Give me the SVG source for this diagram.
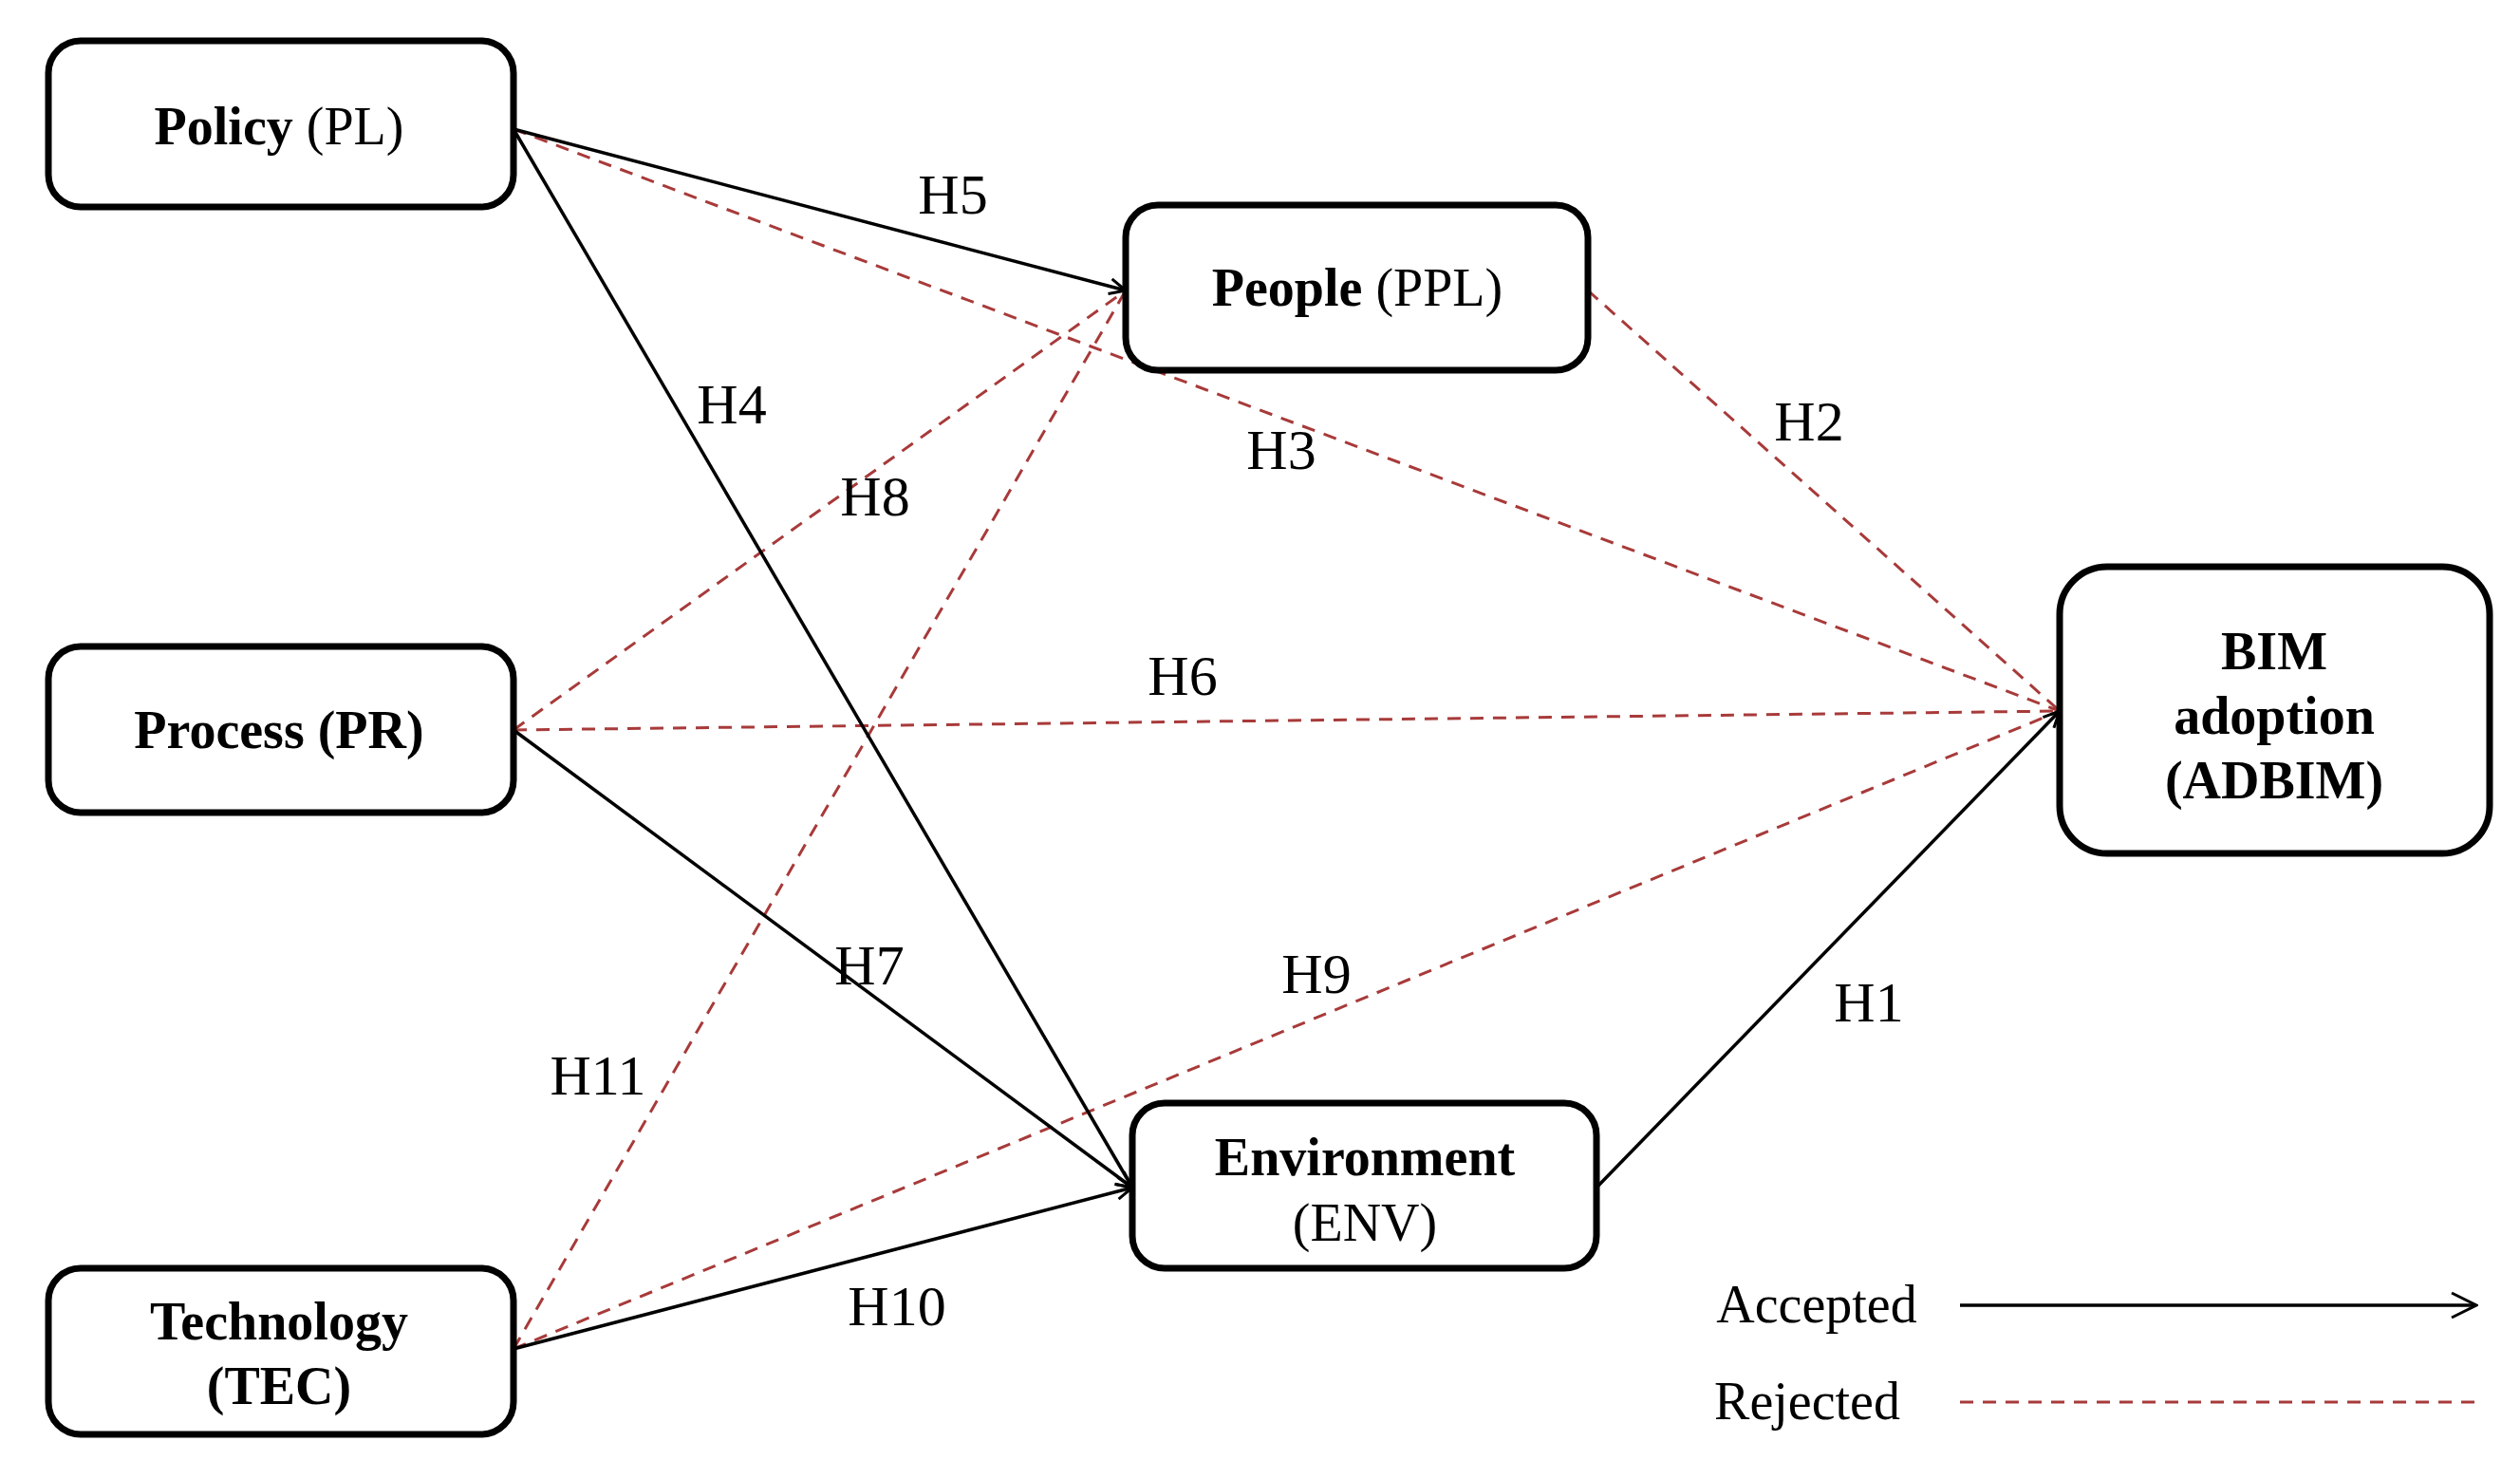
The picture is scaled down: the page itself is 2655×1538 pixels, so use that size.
<svg xmlns="http://www.w3.org/2000/svg" width="2655" height="1538" viewBox="0 0 2655 1538">
<defs>
<style>
.box{fill:#fff;stroke:#000;stroke-width:7}
.t{font-family:"Liberation Serif",serif;font-size:56px;text-anchor:middle;fill:#000}
.b{font-weight:bold}
.lab{font-family:"Liberation Serif",serif;font-size:60px;text-anchor:middle;fill:#000}
.acc{stroke:#000;stroke-width:3.5;fill:none}
.rej{stroke:#a83a3a;stroke-width:3;fill:none;stroke-dasharray:14 10}
</style>
<marker id="ar" viewBox="0 0 20 20" refX="19" refY="10" markerWidth="20" markerHeight="20" markerUnits="userSpaceOnUse" orient="auto"><path d="M2,2 L19,10 L2,18" fill="none" stroke="#000" stroke-width="3"/></marker>
<marker id="al" viewBox="0 0 30 30" refX="28" refY="15" markerWidth="30" markerHeight="30" markerUnits="userSpaceOnUse" orient="auto"><path d="M2,2 L28,15 L2,28" fill="none" stroke="#000" stroke-width="3"/></marker>
</defs>
<rect width="2655" height="1538" fill="#fff"/>
<g id="connectors">
<line class="rej" x1="541" y1="136" x2="2170" y2="749"/>
<line class="rej" x1="541" y1="769" x2="1186" y2="306"/>
<line class="rej" x1="541" y1="769" x2="2170" y2="749"/>
<line class="rej" x1="541" y1="1421" x2="1186" y2="306"/>
<line class="rej" x1="541" y1="1421" x2="2170" y2="749"/>
<line class="rej" x1="1673" y1="306" x2="2170" y2="749"/>
<line class="acc" x1="541" y1="136" x2="1186" y2="306" marker-end="url(#ar)"/>
<line class="acc" x1="541" y1="136" x2="1193" y2="1251" marker-end="url(#ar)"/>
<line class="acc" x1="541" y1="769" x2="1193" y2="1251" marker-end="url(#ar)"/>
<line class="acc" x1="541" y1="1421" x2="1193" y2="1251" marker-end="url(#ar)"/>
<line class="acc" x1="1682" y1="1251" x2="2170" y2="749" marker-end="url(#ar)"/>
<text class="lab" x="1004" y="225">H5</text>
<text class="lab" x="771" y="446">H4</text>
<text class="lab" x="1350" y="494">H3</text>
<text class="lab" x="1906" y="464">H2</text>
<text class="lab" x="922" y="543">H8</text>
<text class="lab" x="1246" y="732">H6</text>
<text class="lab" x="916" y="1037">H7</text>
<text class="lab" x="1387" y="1046">H9</text>
<text class="lab" x="630" y="1153">H11</text>
<text class="lab" x="1969" y="1076">H1</text>
<text class="lab" x="945" y="1396">H10</text>
</g>
<g id="policy"><rect class="box" x="51" y="43" width="490" height="175" rx="34"/><text class="t" x="294" y="152"><tspan class="b">Policy</tspan> (PL)</text></g>
<g id="people"><rect class="box" x="1186" y="216" width="487" height="174" rx="34"/><text class="t" x="1430" y="322"><tspan class="b">People</tspan> (PPL)</text></g>
<g id="process"><rect class="box" x="51" y="681" width="490" height="175" rx="34"/><text class="t b" x="294" y="788">Process (PR)</text></g>
<g id="bim"><rect class="box" x="2170" y="597" width="453" height="302" rx="50"/><text class="t b" x="2396" y="705">BIM</text><text class="t b" x="2396" y="773">adoption</text><text class="t b" x="2396" y="841">(ADBIM)</text></g>
<g id="environment"><rect class="box" x="1193" y="1162" width="489" height="174" rx="34"/><text class="t b" x="1438" y="1238">Environment</text><text class="t" x="1438" y="1307">(ENV)</text></g>
<g id="technology"><rect class="box" x="51" y="1336" width="490" height="175" rx="34"/><text class="t b" x="294" y="1411">Technology</text><text class="t b" x="294" y="1479">(TEC)</text></g>
<g id="legend">
<text class="t" x="1914" y="1393" font-size="52">Accepted</text>
<line class="acc" x1="2065" y1="1375" x2="2609" y2="1375" marker-end="url(#al)"/>
<text class="t" x="1904" y="1495" font-size="52">Rejected</text>
<line class="rej" x1="2065" y1="1477" x2="2609" y2="1477"/>
</g>
</svg>
